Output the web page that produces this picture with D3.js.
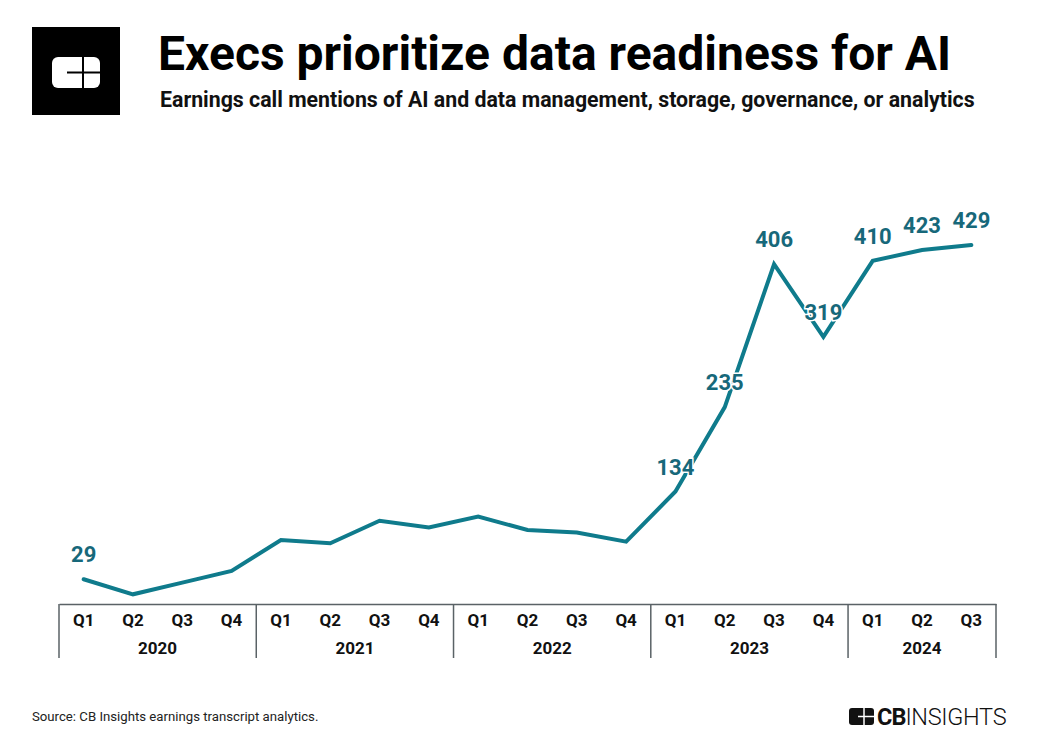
<!DOCTYPE html>
<html>
<head>
<meta charset="utf-8">
<script src="https://cdn.jsdelivr.net/npm/d3@7"></script>
<style>
html,body{margin:0;padding:0;background:#fff;}
svg{display:block;font-family:Roboto,"Noto Sans",sans-serif;}
</style>
</head>
<body>
<svg id="chart" width="1040" height="755"></svg>
<script>
const years = ["2020","2021","2022","2023","2024"];
const quarters = ["Q1","Q2","Q3","Q4","Q1","Q2","Q3","Q4","Q1","Q2","Q3","Q4","Q1","Q2","Q3","Q4","Q1","Q2","Q3"];
const quarterYears = ["2020","2020","2020","2020","2021","2021","2021","2021","2022","2022","2022","2022","2023","2023","2023","2023","2024","2024","2024"];
const mentions = [29,11,25,39,76,72,99,91,104,88,85,74,134,235,406,319,410,423,429];
const labeled = [true,false,false,false,false,false,false,false,false,false,false,false,true,true,true,true,true,true,true];

const svg = d3.select("#chart");
const lineColor = "#0f7b8c";
const labelColor = "#17687a";

// Header logo
const logo = svg.append("g");
logo.append("rect").attr("x",32).attr("y",27).attr("width",88).attr("height",88).attr("fill","#000");
logo.append("rect").attr("x",52).attr("y",57).attr("width",48).attr("height",31).attr("rx",6).attr("fill","#fff");
logo.append("line").attr("x1",83).attr("x2",83).attr("y1",57).attr("y2",88).attr("stroke","#000").attr("stroke-width",2);
logo.append("line").attr("x1",67).attr("x2",100).attr("y1",72.5).attr("y2",72.5).attr("stroke","#000").attr("stroke-width",2);

svg.append("text").attr("x",158).attr("y",70).attr("font-size",48).attr("font-weight",700).attr("fill","#000")
  .text("Execs prioritize data readiness for AI");
svg.append("text").attr("x",160).attr("y",107).attr("font-size",21.3).attr("font-weight",700).attr("fill","#111")
  .text("Earnings call mentions of AI and data management, storage, governance, or analytics");

// Scales
const x = d3.scaleBand().domain(d3.range(mentions.length)).range([59,996]).padding(0);
const y = d3.scaleLinear().domain([0,429]).range([603.5,245]);

// Axis
const axisY = 604;
const xAxis = d3.axisBottom(x).tickSize(0).tickFormat(i => quarters[i]);
const ax = svg.append("g").attr("transform",`translate(0,${axisY})`).call(xAxis);
ax.select(".domain").attr("stroke","#5a6266").attr("stroke-width",1.5);
ax.selectAll("text").attr("font-size",17).attr("font-weight",700).attr("fill","#111")
  .attr("font-family","Roboto, sans-serif").attr("dy","0").attr("y",22);

// Year groups
years.forEach(yr => {
  const idx = quarterYears.map((q,i)=>q===yr?i:-1).filter(i=>i>=0);
  const x0 = x(idx[0]), x1 = x(idx[idx.length-1]) + x.bandwidth();
  svg.append("text").attr("x",(x0+x1)/2).attr("y",654).attr("text-anchor","middle")
    .attr("font-size",17).attr("font-weight",700).attr("fill","#111").text(yr);
});
const seps = [0];
quarterYears.forEach((q,i)=>{ if(i>0 && q!==quarterYears[i-1]) seps.push(i); });
seps.forEach(i => {
  svg.append("line").attr("x1",x(i)).attr("x2",x(i)).attr("y1",axisY).attr("y2",658)
    .attr("stroke","#5a6266").attr("stroke-width",1.5);
});
svg.append("line").attr("x1",996).attr("x2",996).attr("y1",axisY).attr("y2",658)
  .attr("stroke","#5a6266").attr("stroke-width",1.5);

// Line
const line = d3.line().x((d,i)=>x(i)+x.bandwidth()/2).y(d=>y(d));
svg.append("path").datum(mentions).attr("d",line).attr("fill","none")
  .attr("stroke",lineColor).attr("stroke-width",4).attr("stroke-linejoin","miter").attr("stroke-linecap","round");

// Labels
svg.append("g").selectAll("text").data(mentions.map((v,i)=>({v,i})).filter(d=>labeled[d.i]))
  .join("text")
  .attr("x",d=>x(d.i)+x.bandwidth()/2)
  .attr("y",d=>y(d.v)-17)
  .attr("text-anchor","middle")
  .attr("font-size",22).attr("font-weight",700)
  .attr("fill",labelColor)
  .attr("stroke","#fff").attr("stroke-width",3).attr("paint-order","stroke")
  .text(d=>d.v);

// Footer
svg.append("text").attr("x",32).attr("y",721).attr("font-size",13.2).attr("fill","#222").text("Source: CB Insights earnings transcript analytics.");

const fl = svg.append("g");
fl.append("rect").attr("x",849).attr("y",708).attr("width",25).attr("height",17).attr("rx",3).attr("fill","#111");
fl.append("line").attr("x1",864).attr("x2",864).attr("y1",708).attr("y2",725).attr("stroke","#fff").attr("stroke-width",1.5);
fl.append("line").attr("x1",858).attr("x2",874).attr("y1",716.5).attr("y2",716.5).attr("stroke","#fff").attr("stroke-width",1.5);
const ft = fl.append("text").attr("x",877).attr("y",725).attr("font-size",23.5).attr("fill","#111").attr("font-family","Roboto, sans-serif");
ft.append("tspan").attr("font-weight",700).attr("letter-spacing",-1).text("CB");
ft.append("tspan").attr("font-weight",300).attr("letter-spacing",-0.3).text("INSIGHTS");
</script>
</body>
</html>
